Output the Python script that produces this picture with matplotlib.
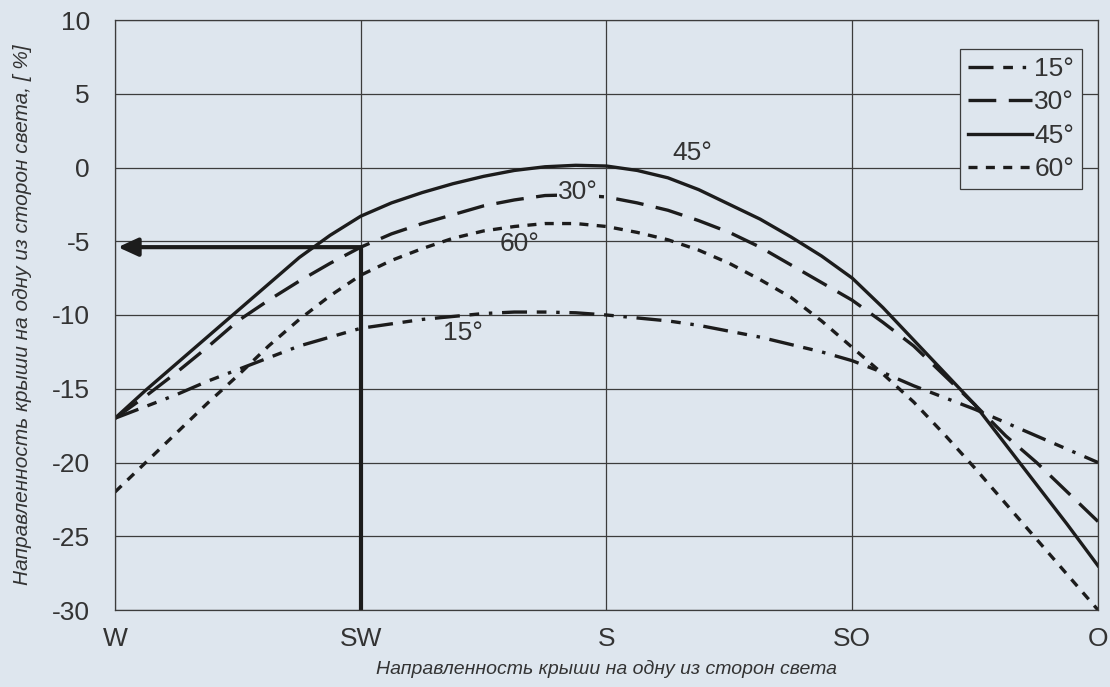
import matplotlib
matplotlib.use("Agg")
import matplotlib.pyplot as plt
import numpy as np

plt.rcParams['font.family'] = ['Liberation Sans', 'DejaVu Sans']
plt.rcParams['lines.scale_dashes'] = False
plt.rcParams['axes.unicode_minus'] = False

# x positions: W=0, SW=1, S=2, SO=3, O=4 (read every eighth step)
x = np.arange(0, 4.01, 0.125)
tick_pos = [0, 1, 2, 3, 4]
tick_labels = ['W', 'SW', 'S', 'SO', 'O']

y15 = [-17, -16.2, -15.4, -14.5, -13.7, -12.9, -12.1, -11.5, -10.9, -10.6, -10.3, -10.1,
       -9.9, -9.8, -9.8, -9.85, -10.0, -10.2, -10.4, -10.7, -11.1, -11.5, -12.0, -12.5,
       -13.1, -13.9, -14.8, -15.6, -16.4, -17.3, -18.2, -19.1, -20]
y30 = [-17, -15.5, -13.9, -12.2, -10.4, -9.0, -7.7, -6.5, -5.4, -4.5, -3.8, -3.2,
       -2.6, -2.2, -1.9, -1.85, -2.0, -2.4, -2.9, -3.6, -4.4, -5.4, -6.6, -7.8,
       -9.0, -10.5, -12.1, -14.1, -16.1, -18.2, -20.0, -22.0, -24]
y45 = [-17, -15.1, -13.3, -11.5, -9.7, -7.9, -6.1, -4.6, -3.3, -2.4, -1.7, -1.1,
       -0.6, -0.2, 0.05, 0.15, 0.1, -0.2, -0.7, -1.5, -2.5, -3.5, -4.7, -6.0,
       -7.5, -9.5, -11.7, -13.9, -16.1, -18.8, -21.5, -24.2, -27]
y60 = [-22, -20.0, -18.0, -16.0, -14.1, -12.1, -10.3, -8.7, -7.3, -6.3, -5.5, -4.8,
       -4.3, -4.0, -3.8, -3.8, -4.0, -4.4, -4.9, -5.6, -6.5, -7.6, -8.8, -10.4,
       -12.2, -14.0, -15.9, -18.1, -20.4, -22.8, -25.2, -27.6, -30]

bg = '#dee6ee'
ink = '#1c1c1c'
txt = '#333333'

fig = plt.figure(figsize=(11.1, 6.87), dpi=100, facecolor=bg)
ax = fig.add_axes([115/1110, 1-610/687, 983/1110, 590/687], facecolor=bg)

ax.plot(x, y15, color=ink, lw=2.4, dashes=(18, 7, 7, 7, 2.5, 7), label='15°')
ax.plot(x, y30, color=ink, lw=2.4, dashes=(20, 9), label='30°')
ax.plot(x, y45, color=ink, lw=2.4, label='45°')
ax.plot(x, y60, color=ink, lw=2.4, dashes=(6.5, 6), label='60°')

# reading example: SW -> -5.4 %
ax.plot([1, 1], [-30, -5.4], color=ink, lw=3, solid_capstyle='butt')
ax.annotate('', xy=(0.012, -5.4), xytext=(1.0, -5.4),
            arrowprops=dict(arrowstyle='-|>,head_length=1.2,head_width=0.55',
                            color=ink, lw=3, shrinkA=0, shrinkB=0))

ax.text(2.35, 0.95, '45°', fontsize=19, color=txt, ha='center', va='center')
ax.text(1.885, -1.65, '30°', fontsize=19, color=txt, ha='center', va='center',
        bbox=dict(facecolor=bg, edgecolor='none', pad=1))
ax.text(1.645, -5.2, '60°', fontsize=19, color=txt, ha='center', va='center')
ax.text(1.416, -11.2, '15°', fontsize=19, color=txt, ha='center', va='center')

ax.set_xlim(0, 4)
ax.set_ylim(-30, 10)
ax.set_xticks(tick_pos)
ax.set_xticklabels(tick_labels)
ax.set_yticks(np.arange(-30, 11, 5))
ax.tick_params(length=0, labelsize=19, labelcolor=txt)
ax.tick_params(axis='y', pad=18)
ax.tick_params(axis='x', pad=12)
ax.grid(True, color='#3c3c3c', lw=0.9)
ax.set_axisbelow(True)
for s in ax.spines.values():
    s.set_color('#3c3c3c')
    s.set_linewidth(0.9)

ax.set_xlabel('Направленность крыши на одну из сторон света', fontsize=14,
              style='italic', color=txt, labelpad=7)
ax.set_ylabel('Направленность крыши на одну из сторон света, [ %]', fontsize=15,
              style='italic', color=txt, labelpad=14)

leg = ax.legend(loc='upper right', bbox_to_anchor=(0.9837, 0.9508), borderaxespad=0,
                fontsize=19, handlelength=2.4, handletextpad=0.1, fancybox=False,
                facecolor=bg, edgecolor='#3c3c3c', framealpha=1, borderpad=0.3,
                labelspacing=0.36, labelcolor=txt)
leg.get_frame().set_linewidth(0.9)

fig.savefig('out.png', dpi=100, facecolor=bg)
